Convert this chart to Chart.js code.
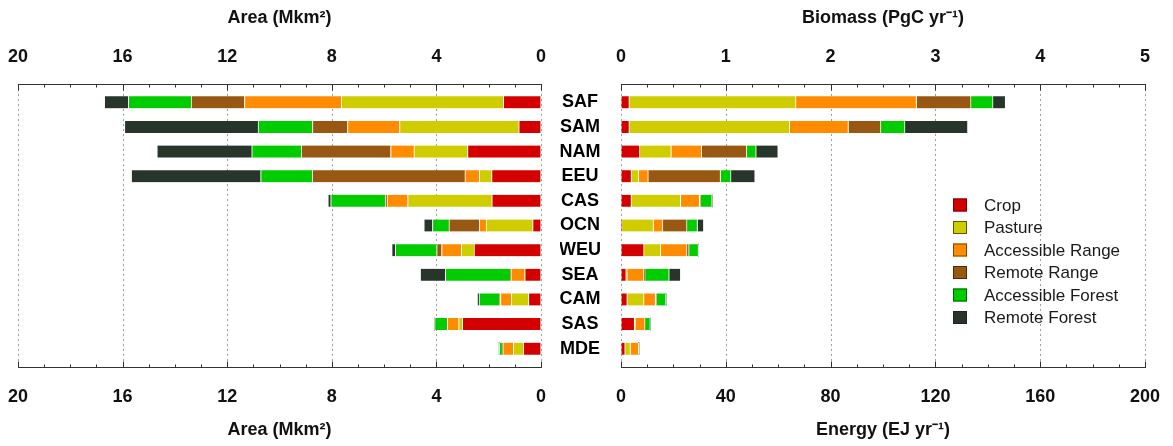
<!DOCTYPE html>
<html>
<head>
<meta charset="utf-8">
<script src="https://cdn.jsdelivr.net/npm/chart.js@4.4.1/dist/chart.umd.min.js"></script>
<style>
  body { margin: 0; background: #fff; }
  #left { position: absolute; left: 0; top: 0; }
  #right { position: absolute; left: 560px; top: 0; }
</style>
</head>
<body>
<canvas id="left" width="560" height="446"></canvas>
<canvas id="right" width="613" height="446"></canvas>
<script>
// regions, top to bottom
var regions = ['SAF', 'SAM', 'NAM', 'EEU', 'CAS', 'OCN', 'WEU', 'SEA', 'CAM', 'SAS', 'MDE'];
var landTypes = ['Crop', 'Pasture', 'Accessible Range', 'Remote Range', 'Accessible Forest', 'Remote Forest'];

// area, Mkm2
var areaCrop      = [1.44, 0.85, 2.81, 1.89, 1.88, 0.32, 2.56, 0.62, 0.48, 3.01, 0.68];
var areaPasture   = [6.20, 4.56, 2.05, 0.47, 3.22, 1.78, 0.49, 0.02, 0.66, 0.14, 0.38];
var areaAccRange  = [3.70, 1.99, 0.89, 0.55, 0.79, 0.26, 0.75, 0.51, 0.41, 0.44, 0.40];
var areaRemRange  = [2.04, 1.34, 3.42, 5.84, 0.07, 1.16, 0.19, 0.03, 0.05, 0.00, 0.03];
var areaAccForest = [2.40, 2.08, 1.89, 1.97, 2.08, 0.63, 1.58, 2.48, 0.77, 0.48, 0.11];
var areaRemForest = [0.92, 5.11, 3.63, 4.95, 0.11, 0.33, 0.14, 0.96, 0.07, 0.00, 0.00];

// biomass, PgC/yr
var bioCrop      = [0.08, 0.08, 0.18, 0.10, 0.10, 0.01, 0.22, 0.05, 0.06, 0.13, 0.04];
var bioPasture   = [1.59, 1.53, 0.30, 0.07, 0.47, 0.30, 0.16, 0.01, 0.16, 0.01, 0.05];
var bioAccRange  = [1.15, 0.56, 0.29, 0.09, 0.18, 0.09, 0.25, 0.16, 0.11, 0.09, 0.08];
var bioRemRange  = [0.52, 0.31, 0.43, 0.69, 0.01, 0.23, 0.02, 0.01, 0.01, 0.00, 0.00];
var bioAccForest = [0.21, 0.23, 0.09, 0.10, 0.11, 0.10, 0.09, 0.23, 0.09, 0.05, 0.00];
var bioRemForest = [0.12, 0.60, 0.21, 0.23, 0.00, 0.06, 0.00, 0.11, 0.00, 0.00, 0.00];

// tick labels
var areaTicks = [0, 4, 8, 12, 16, 20];
var biomassTicks = [0, 1, 2, 3, 4, 5];
var energyTicks = [0, 40, 80, 120, 160, 200];

var colors = ['#d40000', '#cfcc00', '#ff8c00', '#985812', '#00cc00', '#28352a'];
var legendBorders = ['#7a0000', '#5a5a00', '#7a4a00', '#4a2a08', '#006000', '#222222'];

var FONT = "'Liberation Sans', Arial, sans-serif";
var PAD = 6; // frame sits this far outside the bar area

function setTicks(list) {
    return function(scale) { scale.ticks = list.map(function(v) { return {value: v}; }); };
}

// dotted grid + axis lines with inward ticks
var framePlugin = {
    id: 'frame',
    beforeDatasetsDraw: function(chart, args, opts) {
        var ctx = chart.ctx, a = chart.chartArea;
        var sc = chart.scales[opts.gridAxis];
        ctx.save();
        ctx.strokeStyle = '#a0a0a0';
        ctx.lineWidth = 1;
        ctx.setLineDash([2, 3]);
        sc.ticks.forEach(function(t) {
            var x = Math.round(sc.getPixelForValue(t.value)) + 0.5;
            ctx.beginPath();
            ctx.moveTo(x, a.top - PAD);
            ctx.lineTo(x, a.bottom + PAD);
            ctx.stroke();
        });
        ctx.restore();
    },
    afterDatasetsDraw: function(chart, args, opts) {
        var ctx = chart.ctx, a = chart.chartArea;
        ctx.save();
        ctx.strokeStyle = '#333';
        ctx.lineWidth = 1;
        [[opts.top, a.top - PAD, 1], [opts.bottom, a.bottom + PAD, -1]].forEach(function(item) {
            var ax = item[0], y = Math.round(item[1]) + 0.5, dir = item[2];
            var sc = chart.scales[ax.id];
            ctx.beginPath();
            ctx.moveTo(a.left, y);
            ctx.lineTo(a.right + 1, y);
            ctx.stroke();
            var n = Math.round((sc.max - sc.min) / ax.minor);
            for (var i = 0; i <= n; i++) {
                var v = sc.min + i * ax.minor;
                var major = (i % ax.every) === 0;
                var x = Math.round(sc.getPixelForValue(v)) + 0.5;
                ctx.beginPath();
                ctx.moveTo(x, y);
                ctx.lineTo(x, y + dir * (major ? 6 : 3));
                ctx.stroke();
            }
        });
        ctx.restore();
    }
};

// legend inside the right panel
var legendPlugin = {
    id: 'boxLegend',
    afterDraw: function(chart, args, opts) {
        if (!opts.show) return;
        var ctx = chart.ctx;
        ctx.save();
        ctx.font = '17px ' + FONT;
        ctx.textBaseline = 'middle';
        chart.data.datasets.forEach(function(ds, i) {
            var y = opts.y + i * opts.step;
            ctx.fillStyle = ds.backgroundColor;
            ctx.fillRect(opts.x, y - 6.5, 14, 13);
            ctx.strokeStyle = legendBorders[i];
            ctx.lineWidth = 1;
            ctx.strokeRect(opts.x + 0.5, y - 6, 13, 12);
            ctx.fillStyle = '#1a1a1a';
            ctx.fillText(ds.label, opts.x + 31, y + 1);
        });
        ctx.restore();
    }
};

function makeDatasets(series, axisId, side) {
    return series.map(function(vals, i) {
        return {
            label: landTypes[i],
            data: vals,
            backgroundColor: colors[i],
            borderColor: '#ffffff',
            borderWidth: side === 'left' ? {left: 1, right: 0, top: 0, bottom: 0} : {left: 0, right: 1, top: 0, bottom: 0},
            borderSkipped: false,
            barThickness: 12,
            xAxisID: axisId,
            yAxisID: 'y'
        };
    });
}

function axisTitle(text, pad) {
    return {display: true, text: text, color: '#111', font: {family: FONT, size: 18, weight: 'bold'}, padding: pad};
}
var tickFont = {family: FONT, size: 18, weight: 'bold'};
var noGrid = {display: false, drawTicks: false};
// invisible tick marks just to push the labels away from the frame
function gapGrid(len) {
    return {display: true, drawOnChartArea: false, drawTicks: true, tickLength: len, tickColor: 'rgba(0,0,0,0)'};
}

function topHeight(s) { s.height = 90; }
function bottomHeight(s) { s.height = 85; }

Chart.defaults.animation = false;

// left panel: area
new Chart(document.getElementById('left'), {
    type: 'bar',
    data: {
        labels: regions,
        datasets: makeDatasets([areaCrop, areaPasture, areaAccRange, areaRemRange, areaAccForest, areaRemForest], 'x', 'left')
    },
    options: {
        indexAxis: 'y',
        responsive: false,
        devicePixelRatio: 1,
        layout: {padding: {left: 18, right: 19, top: 0, bottom: 0}},
        plugins: {
            legend: {display: false},
            tooltip: {enabled: false},
            frame: {gridAxis: 'x', top: {id: 'x2', minor: 1, every: 4}, bottom: {id: 'x', minor: 1, every: 4}},
            boxLegend: {show: false}
        },
        scales: {
            x: {
                position: 'bottom', min: 0, max: 20, reverse: true, stacked: true,
                afterBuildTicks: setTicks(areaTicks), afterFit: bottomHeight,
                grid: gapGrid(25), border: {display: false},
                ticks: {color: '#111', font: tickFont, padding: 0, maxRotation: 0},
                title: axisTitle('Area (Mkm\u00b2)', {top: 0, bottom: 5})
            },
            x2: {
                position: 'top', min: 0, max: 20, reverse: true,
                afterBuildTicks: setTicks(areaTicks), afterFit: topHeight,
                grid: gapGrid(22), border: {display: false},
                ticks: {color: '#111', font: tickFont, padding: 0, maxRotation: 0},
                title: axisTitle('Area (Mkm\u00b2)', {top: 7, bottom: 0})
            },
            y: {display: false, stacked: true}
        }
    },
    plugins: [framePlugin, legendPlugin]
});

// right panel: biomass / energy
new Chart(document.getElementById('right'), {
    type: 'bar',
    data: {
        labels: regions,
        datasets: makeDatasets([bioCrop, bioPasture, bioAccRange, bioRemRange, bioAccForest, bioRemForest], 'xb', 'right')
    },
    options: {
        indexAxis: 'y',
        responsive: false,
        devicePixelRatio: 1,
        layout: {padding: {left: 0, right: 28, top: 0, bottom: 0}},
        plugins: {
            legend: {display: false},
            tooltip: {enabled: false},
            frame: {gridAxis: 'xb', top: {id: 'xb', minor: 0.25, every: 4}, bottom: {id: 'xe', minor: 10, every: 4}},
            boxLegend: {show: true, x: 393, y: 205, step: 22.5}
        },
        scales: {
            xb: {
                position: 'top', min: 0, max: 5, stacked: true,
                afterBuildTicks: setTicks(biomassTicks), afterFit: topHeight,
                grid: gapGrid(22), border: {display: false},
                ticks: {color: '#111', font: tickFont, padding: 0, maxRotation: 0},
                title: axisTitle('Biomass (PgC yr\u207b\u00b9)', {top: 7, bottom: 0})
            },
            xe: {
                position: 'bottom', min: 0, max: 200,
                afterBuildTicks: setTicks(energyTicks), afterFit: bottomHeight,
                grid: gapGrid(25), border: {display: false},
                ticks: {color: '#111', font: tickFont, padding: 0, maxRotation: 0},
                title: axisTitle('Energy (EJ yr\u207b\u00b9)', {top: 0, bottom: 5})
            },
            y: {
                position: 'left', stacked: true,
                afterFit: function(s) { s.width = 61; },
                grid: noGrid, border: {display: false},
                ticks: {color: '#000', font: tickFont, padding: 20, crossAlign: 'center'}
            }
        }
    },
    plugins: [framePlugin, legendPlugin]
});
</script>
</body>
</html>
